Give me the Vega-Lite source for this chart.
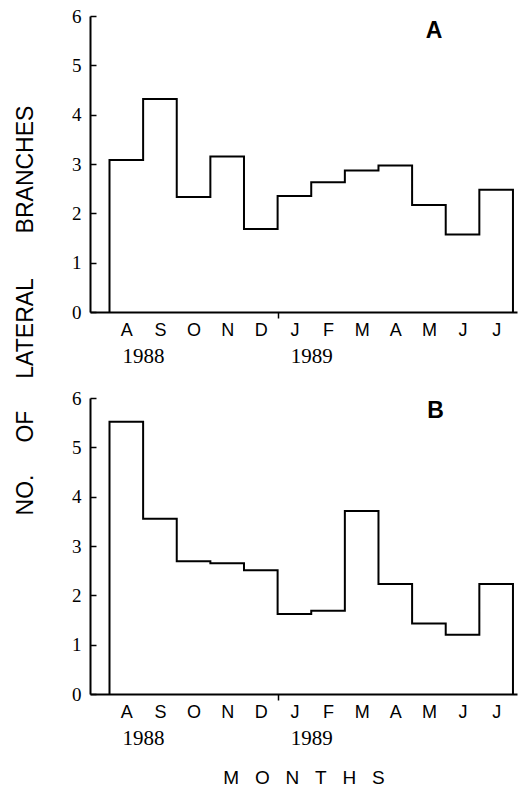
{
  "$schema": "https://vega.github.io/schema/vega-lite/v6.json",
  "background": "white",
  "padding": {"left": 14, "top": 7, "right": 2, "bottom": 2},
  "bounds": "flush",
  "spacing": 86,
  "config": {
    "view": {"stroke": null},
    "axis": {"grid": false, "domainColor": "black", "tickColor": "black", "labelColor": "black", "titleColor": "black"}
  },
  "datasets": {
    "A": [
      {"o": 0, "x": 0, "v": 0},
      {"o": 1, "x": 0, "v": 3.08},
      {"o": 2, "x": 1, "v": 4.32},
      {"o": 3, "x": 2, "v": 2.33},
      {"o": 4, "x": 3, "v": 3.15},
      {"o": 5, "x": 4, "v": 1.68},
      {"o": 6, "x": 5, "v": 2.35},
      {"o": 7, "x": 6, "v": 2.63},
      {"o": 8, "x": 7, "v": 2.87},
      {"o": 9, "x": 8, "v": 2.97},
      {"o": 10, "x": 9, "v": 2.17},
      {"o": 11, "x": 10, "v": 1.57},
      {"o": 12, "x": 11, "v": 2.48},
      {"o": 13, "x": 12, "v": 2.48},
      {"o": 14, "x": 12, "v": 0}
    ],
    "B": [
      {"o": 0, "x": 0, "v": 0},
      {"o": 1, "x": 0, "v": 5.52},
      {"o": 2, "x": 1, "v": 3.55},
      {"o": 3, "x": 2, "v": 2.69},
      {"o": 4, "x": 3, "v": 2.65},
      {"o": 5, "x": 4, "v": 2.51},
      {"o": 6, "x": 5, "v": 1.62},
      {"o": 7, "x": 6, "v": 1.69},
      {"o": 8, "x": 7, "v": 3.71},
      {"o": 9, "x": 8, "v": 2.23},
      {"o": 10, "x": 9, "v": 1.43},
      {"o": 11, "x": 10, "v": 1.2},
      {"o": 12, "x": 11, "v": 2.23},
      {"o": 13, "x": 12, "v": 2.23},
      {"o": 14, "x": 12, "v": 0}
    ],
    "labA": [{"x": 9.65, "v": 5.69, "t": "A"}],
    "labB": [{"x": 9.7, "v": 5.73, "t": "B"}]
  },
  "vconcat": [
    {
      "width": 427,
      "height": 296,
      "resolve": {"axis": {"x": "independent"}},
      "encoding": {
        "y": {
          "field": "v", "type": "quantitative",
          "scale": {"domain": [0, 6], "nice": false},
          "axis": {
            "values": [0, 1, 2, 3, 4, 5, 6], "tickSize": -6, "tickWidth": 1.5, "domainWidth": 2,
            "labelFont": "Liberation Serif", "labelFontSize": 19, "labelPadding": 15, "labelFlush": false,
            "title": "NO.\u00a0\u00a0\u00a0\u00a0\u00a0OF\u00a0\u00a0\u00a0\u00a0\u00a0LATERAL\u00a0\u00a0\u00a0\u00a0\u00a0\u00a0\u00a0BRANCHES",
            "titleFont": "Liberation Sans", "titleFontSize": 23, "titleFontWeight": "normal",
            "titleX": -65, "titleY": 294, "titleBaseline": "middle", "titleAngle": 270
          }
        }
      },
      "layer": [
        {
          "data": {"name": "A"},
          "mark": {"type": "line", "interpolate": "step-after", "color": "black", "strokeWidth": 2},
          "encoding": {
            "x": {
              "field": "x", "type": "quantitative",
              "scale": {"domain": [-0.58, 12.12], "nice": false, "zero": false},
              "axis": {
                "orient": "bottom", "title": null,
                "values": [0.5, 1.5, 2.5, 3.5, 4.5, 5.5, 6.5, 7.5, 8.5, 9.5, 10.5, 11.5],
                "labelExpr": "['A','S','O','N','D','J','F','M','A','M','J','J'][floor(datum.value)]",
                "ticks": false, "domainWidth": 2, "labelFont": "Liberation Sans", "labelFontSize": 18,
                "labelPadding": 9, "labelOverlap": false, "labelFlush": false
              }
            },
            "order": {"field": "o"}
          }
        },
        {
          "data": {"name": "labA"},
          "mark": {"type": "text", "font": "Liberation Sans", "fontWeight": "bold", "fontSize": 23, "color": "black"},
          "encoding": {
            "x": {
              "field": "x", "type": "quantitative",
              "scale": {"domain": [-0.58, 12.12], "nice": false, "zero": false},
              "axis": {
                "orient": "bottom", "title": null, "values": [1, 5, 6],
                "labelExpr": "datum.value == 1 ? '1988' : datum.value == 6 ? '1989' : ''",
                "domain": false, "tickSize": 6, "tickWidth": 1.5,
                "tickColor": {"condition": {"test": "datum.value == 5", "value": "black"}, "value": "transparent"},
                "labelFont": "Liberation Serif", "labelFontSize": 21, "labelPadding": 27, "labelOverlap": false
              }
            },
            "text": {"field": "t"}
          }
        }
      ]
    },
    {
      "width": 427,
      "height": 296,
      "resolve": {"axis": {"x": "independent"}},
      "encoding": {
        "y": {
          "field": "v", "type": "quantitative",
          "scale": {"domain": [0, 6], "nice": false},
          "axis": {
            "values": [0, 1, 2, 3, 4, 5, 6], "tickSize": -6, "tickWidth": 1.5, "domainWidth": 2,
            "labelFont": "Liberation Serif", "labelFontSize": 19, "labelPadding": 15, "labelFlush": false,
            "title": null
          }
        }
      },
      "layer": [
        {
          "data": {"name": "B"},
          "mark": {"type": "line", "interpolate": "step-after", "color": "black", "strokeWidth": 2},
          "encoding": {
            "x": {
              "field": "x", "type": "quantitative",
              "scale": {"domain": [-0.58, 12.12], "nice": false, "zero": false},
              "axis": {
                "orient": "bottom", "title": "M\u00a0\u00a0\u00a0O\u00a0\u00a0\u00a0N\u00a0\u00a0\u00a0T\u00a0\u00a0\u00a0H\u00a0\u00a0\u00a0S",
                "titleFont": "Liberation Sans", "titleFontSize": 19, "titleFontWeight": "normal",
                "titleY": 83, "titleBaseline": "middle",
                "values": [0.5, 1.5, 2.5, 3.5, 4.5, 5.5, 6.5, 7.5, 8.5, 9.5, 10.5, 11.5],
                "labelExpr": "['A','S','O','N','D','J','F','M','A','M','J','J'][floor(datum.value)]",
                "ticks": false, "domainWidth": 2, "labelFont": "Liberation Sans", "labelFontSize": 18,
                "labelPadding": 9, "labelOverlap": false, "labelFlush": false
              }
            },
            "order": {"field": "o"}
          }
        },
        {
          "data": {"name": "labB"},
          "mark": {"type": "text", "font": "Liberation Sans", "fontWeight": "bold", "fontSize": 23, "color": "black"},
          "encoding": {
            "x": {
              "field": "x", "type": "quantitative",
              "scale": {"domain": [-0.58, 12.12], "nice": false, "zero": false},
              "axis": {
                "orient": "bottom", "title": null, "values": [1, 5, 6],
                "labelExpr": "datum.value == 1 ? '1988' : datum.value == 6 ? '1989' : ''",
                "domain": false, "tickSize": 6, "tickWidth": 1.5,
                "tickColor": {"condition": {"test": "datum.value == 5", "value": "black"}, "value": "transparent"},
                "labelFont": "Liberation Serif", "labelFontSize": 21, "labelPadding": 27, "labelOverlap": false
              }
            },
            "text": {"field": "t"}
          }
        }
      ]
    }
  ]
}
